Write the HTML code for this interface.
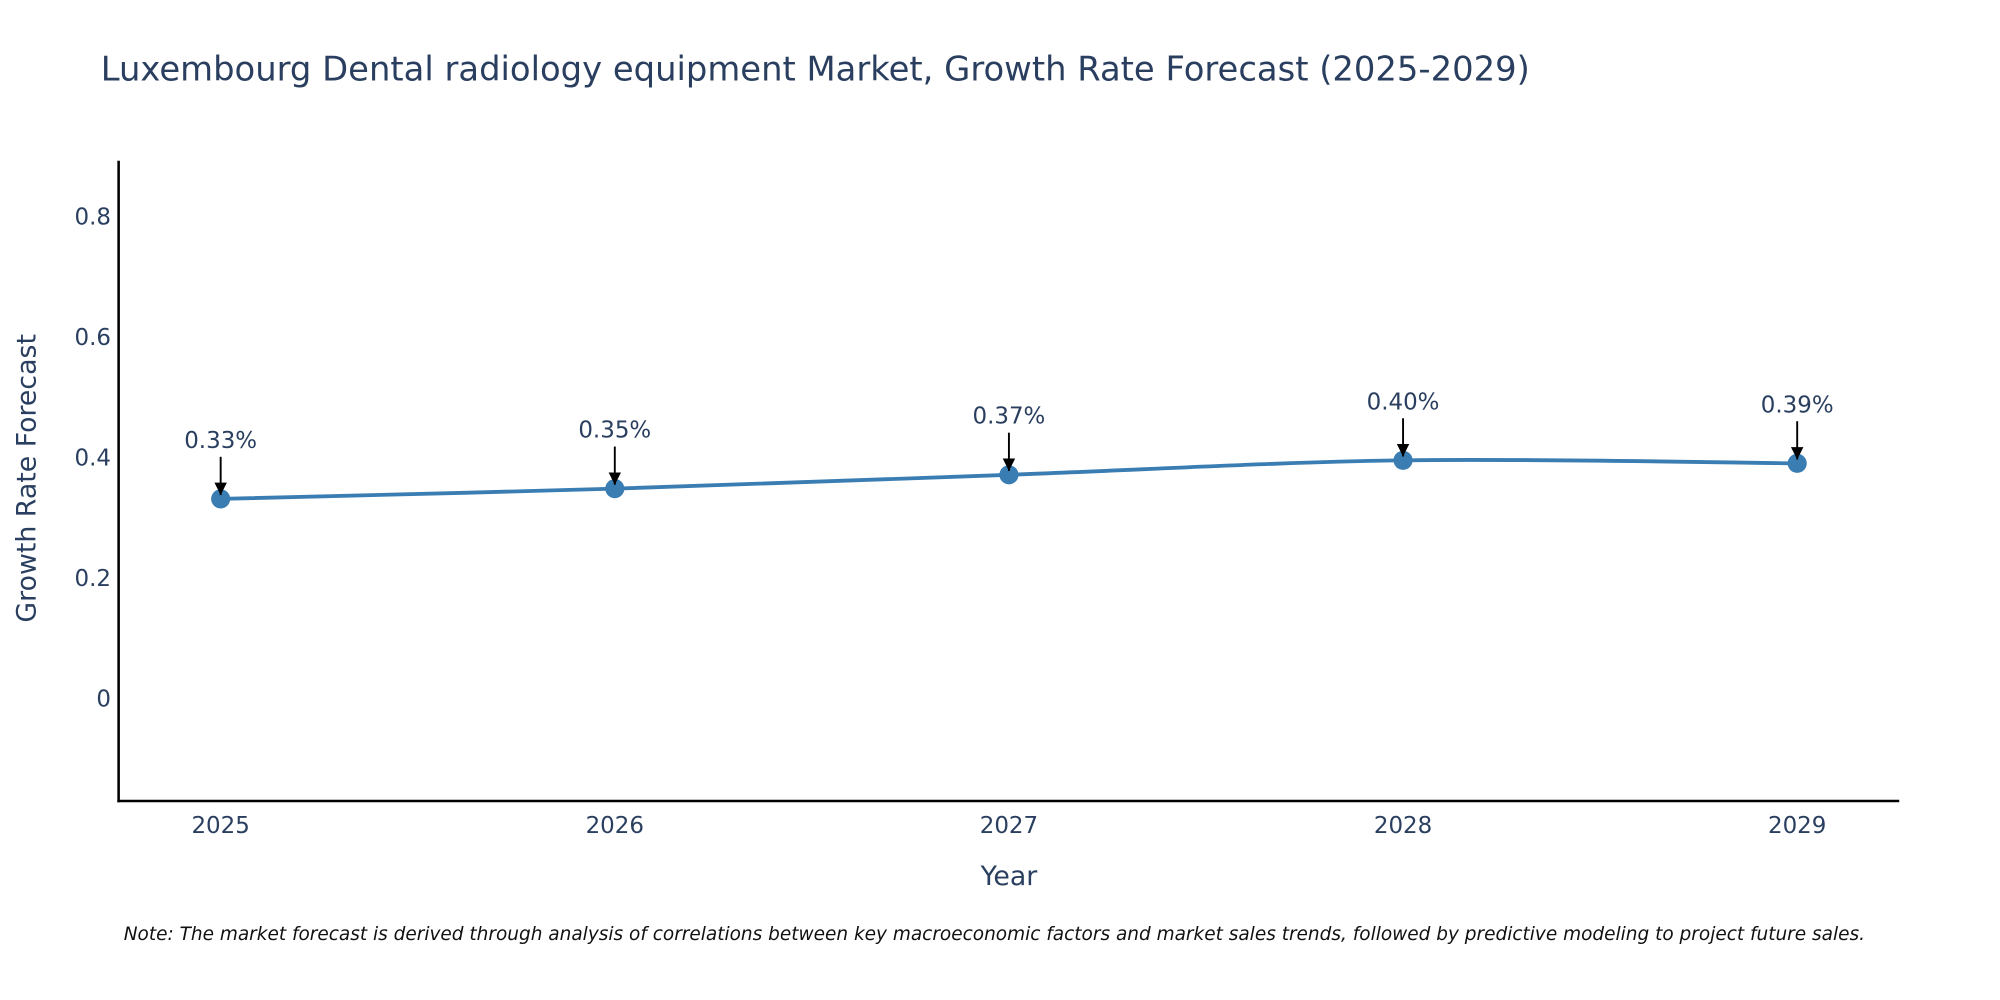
<!DOCTYPE html>
<html><head><meta charset="utf-8"><style>
html,body{margin:0;padding:0;background:#fff;overflow:hidden;}
svg{display:block;font-family:"DejaVu Sans","Liberation Sans",sans-serif;}
</style></head><body>
<svg id="chart" width="2000" height="1000" viewBox="0 0 1568 784">
<defs><marker id="ah" viewBox="0 0 10 10" refX="9" refY="5" markerWidth="7" markerHeight="7" markerUnits="userSpaceOnUse" orient="auto"><path d="M0,0 L10,5 L0,10 z" fill="#000"/></marker>
<marker id="ah2" viewBox="0 0 10 10" refX="10" refY="5" markerWidth="6.5" markerHeight="8" orient="auto"><path d="M0,0 L10,5 L0,10 z" fill="#000"/></marker></defs>
<text x="79" y="63" font-size="26.5" fill="#2a3f5f">Luxembourg Dental radiology equipment Market, Growth Rate Forecast (2025-2029)</text>
<g id="yticks"></g><g id="xticks"></g>
<line x1="93" y1="126" x2="93" y2="629" stroke="#000" stroke-width="2"/>
<line x1="92" y1="628" x2="1489" y2="628" stroke="#000" stroke-width="2"/>
<text transform="translate(28,375) rotate(-90)" text-anchor="middle" font-size="21" fill="#2a3f5f">Growth Rate Forecast</text>
<text x="791" y="694" text-anchor="middle" font-size="21" fill="#2a3f5f">Year</text>
<path id="line" fill="none" stroke="#3a7db3" stroke-width="3"/>
<g id="marks"></g>
<text x="97" y="737" font-size="14.5" font-style="italic" fill="#111">Note: The market forecast is derived through analysis of correlations between key macroeconomic factors and market sales trends, followed by predictive modeling to project future sales.</text>
</svg>
<script>
const years=["2025","2026","2027","2028","2029"];
const values=[0.332,0.349,0.372,0.396,0.391];
const labels=["0.33%","0.35%","0.37%","0.40%","0.39%"];
const yTicks=[0,0.2,0.4,0.6,0.8];
const NS="http://www.w3.org/2000/svg";
const X=i=>173+i*309;
const Y=v=>548-v*472.5;
function mk(t,a,p){const e=document.createElementNS(NS,t);for(const k in a)e.setAttribute(k,a[k]);p.appendChild(e);return e;}
const yt=document.getElementById('yticks');
yTicks.forEach(v=>{const t=mk('text',{x:87,y:Y(v)+6,'text-anchor':'end','font-size':18,fill:'#2a3f5f'},yt);t.textContent=String(v);

});
const xt=document.getElementById('xticks');
years.forEach((y,i)=>{const t=mk('text',{x:X(i),y:653,'text-anchor':'middle','font-size':18,fill:'#2a3f5f'},xt);t.textContent=y;

});
const P=values.map((v,i)=>[X(i),Y(v)]);
let d=`M${P[0][0]},${P[0][1]}`;
for(let i=0;i<P.length-1;i++){const p0=P[i-1]||P[i],p1=P[i],p2=P[i+1],p3=P[i+2]||p2;
d+=` C${p1[0]+(p2[0]-p0[0])/6},${p1[1]+(p2[1]-p0[1])/6} ${p2[0]-(p3[0]-p1[0])/6},${p2[1]-(p3[1]-p1[1])/6} ${p2[0]},${p2[1]}`;}
document.getElementById('line').setAttribute('d',d);
const g=document.getElementById('marks');
P.forEach((p,i)=>{
const c=mk('circle',{cx:p[0],cy:p[1],r:7.5,fill:'#3a7db3'},g);


const a=mk('line',{x1:p[0],y1:p[1]-33,x2:p[0],y2:p[1]-3,stroke:'#000','stroke-width':1.5,'marker-end':'url(#ah2)'},g);


const t=mk('text',{x:p[0],y:p[1]-40,'text-anchor':'middle','font-size':18,fill:'#2a3f5f'},g);t.textContent=labels[i];


});
</script>
</body></html>
